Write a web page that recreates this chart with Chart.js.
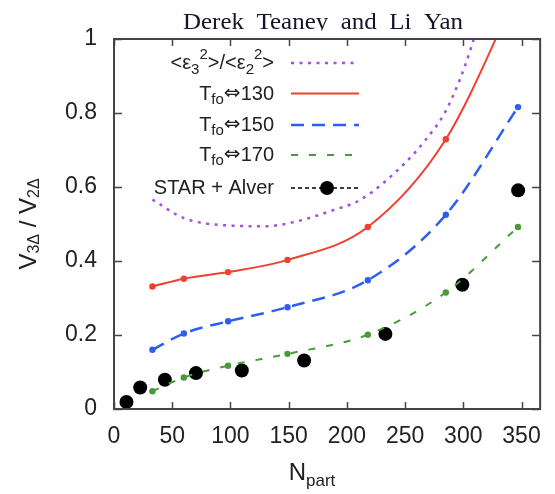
<!DOCTYPE html>
<html>
<head>
<meta charset="utf-8">
<script src="https://cdn.jsdelivr.net/npm/chart.js@4.4.1/dist/chart.umd.min.js"></script>
<style>
  html, body { margin: 0; padding: 0; background: #fff; }
  canvas { display: block; }
</style>
</head>
<body>
<canvas id="ratio-chart" width="555" height="494"></canvas>
<script>
// eccentricity ratio <e3^2>/<e2^2> (plain curve, no markers)
const nPartEcc = [33, 60, 98, 130, 157, 185, 213, 250, 267, 284, 297, 306, 320];
const eccRatio = [0.566, 0.516, 0.496, 0.494, 0.507, 0.534, 0.568, 0.665, 0.725, 0.80, 0.89, 0.97, 1.12];
// N_part values of the hydro points
const nPartModel = [33, 60, 98, 149, 218, 285, 347];
// v3/v2 for the three freeze-out temperatures
const tfo130 = [0.331, 0.352, 0.370, 0.403, 0.492, 0.729, 1.13];
const tfo150 = [0.160, 0.204, 0.237, 0.275, 0.348, 0.525, 0.816];
const tfo170 = [0.048, 0.085, 0.117, 0.149, 0.201, 0.315, 0.492];
// STAR + Alver data
const nPartStar = [10.7, 22.5, 43.7, 70.4, 109.8, 163.3, 233.1, 299.2, 347.1];
const starAlver = [0.019, 0.058, 0.079, 0.097, 0.104, 0.131, 0.203, 0.336, 0.591];

const xTicks = [0, 50, 100, 150, 200, 250, 300, 350];
const yTicks = [0, 0.2, 0.4, 0.6, 0.8, 1];

const seriesNames = ['<ε3²>/<ε2²>', 'Tfo⇔130', 'Tfo⇔150', 'Tfo⇔170', 'STAR + Alver'];
const seriesColors = ['#a050e0', '#f04030', '#2e5ef0', '#4a9a3a', '#000000'];

const SANS = '"Liberation Sans", Arial, sans-serif';
const ARROW = '"DejaVu Sans", sans-serif';

function toPoints(xs, ys) {
    return xs.map((x, i) => ({ x: x, y: ys[i] }));
}

// draw a row of text pieces (sub/superscripts) starting at x
function drawRuns(ctx, runs, x, y, align) {
    let total = 0;
    runs.forEach(r => {
        ctx.font = r.size + 'px ' + (r.family || SANS);
        r.w = ctx.measureText(r.t).width + (r.gap || 0);
        total += r.w;
    });
    let cx = align === 'right' ? x - total : (align === 'center' ? x - total / 2 : x);
    ctx.textAlign = 'left';
    ctx.textBaseline = 'alphabetic';
    runs.forEach(r => {
        ctx.font = r.size + 'px ' + (r.family || SANS);
        ctx.fillText(r.t, cx, y + (r.dy || 0));
        cx += r.w;
    });
}

function tfoRuns(temp) {
    return [
        { t: 'T', size: 20 },
        { t: 'fo', size: 15, dy: 4 },
        { t: '⇔', size: 20, family: ARROW, dy: -1 },
        { t: temp, size: 20 }
    ];
}

const legendRows = [
    { y: 63, runs: [
        { t: '<ε', size: 20 }, { t: '3', size: 15, dy: 5 }, { t: '2', size: 15, dy: -10 },
        { t: '>/<ε', size: 20 }, { t: '2', size: 15, dy: 5 }, { t: '2', size: 15, dy: -10 },
        { t: '>', size: 20 }], dash: [3, 5.5], width: 2.5 },
    { y: 93.5, runs: tfoRuns('130'), dash: [], width: 2 },
    { y: 125, runs: tfoRuns('150'), dash: [13, 8], width: 2.5 },
    { y: 155, runs: tfoRuns('170'), dash: [7, 11], width: 2 },
    { y: 188, runs: [{ t: 'STAR + Alver', size: 20 }], dash: [4, 3], width: 1.5, dot: true }
];

const decorPlugin = {
    id: 'decor',
    afterDraw(chart) {
        const ctx = chart.ctx;
        const area = chart.chartArea;
        const xs = chart.scales.x, ys = chart.scales.y;
        ctx.save();

        // frame with inward ticks
        ctx.strokeStyle = '#444';
        ctx.lineWidth = 2;
        ctx.strokeRect(area.left, area.top, area.right - area.left, area.bottom - area.top);
        ctx.lineWidth = 1.5;
        ctx.beginPath();
        xTicks.forEach(v => {
            const px = Math.round(xs.getPixelForValue(v)) + 0.5;
            ctx.moveTo(px, area.bottom); ctx.lineTo(px, area.bottom - 7);
            ctx.moveTo(px, area.top); ctx.lineTo(px, area.top + 7);
        });
        yTicks.forEach(v => {
            const py = Math.round(ys.getPixelForValue(v)) + 0.5;
            ctx.moveTo(area.left, py); ctx.lineTo(area.left + 8, py);
            ctx.moveTo(area.right, py); ctx.lineTo(area.right - 8, py);
        });
        ctx.stroke();

        // legend
        legendRows.forEach((row, i) => {
            ctx.fillStyle = '#222';
            drawRuns(ctx, row.runs, 274, row.y + 6, 'right');
            ctx.strokeStyle = seriesColors[i];
            ctx.lineWidth = row.width;
            ctx.setLineDash(row.dash);
            ctx.beginPath();
            ctx.moveTo(291, row.y);
            ctx.lineTo(359, row.y);
            ctx.stroke();
            ctx.setLineDash([]);
            if (row.dot) {
                ctx.fillStyle = '#000';
                ctx.beginPath();
                ctx.arc(327, row.y, 7, 0, Math.PI * 2);
                ctx.fill();
            }
        });

        // axis titles
        ctx.fillStyle = '#222';
        drawRuns(ctx, [{ t: 'N', size: 24 }, { t: 'part', size: 17, dy: 6 }], 312, 480, 'center');

        ctx.save();
        ctx.translate(36, 224);
        ctx.rotate(-Math.PI / 2);
        drawRuns(ctx, [
            { t: 'V', size: 24 }, { t: '3Δ', size: 16, dy: 3 },
            { t: ' / ', size: 24 },
            { t: 'V', size: 24 }, { t: '2Δ', size: 16, dy: 3 }
        ], 0, 0, 'center');
        ctx.restore();

        // running header above the plot, cut off just under the baseline
        ctx.save();
        ctx.beginPath();
        ctx.rect(0, 0, 555, 30.5);
        ctx.clip();
        ctx.fillStyle = '#14142a';
        ctx.font = '24px "Liberation Serif", "Times New Roman", serif';
        const title = 'Derek  Teaney  and  Li  Yan';
        const tw = ctx.measureText(title).width;
        ctx.translate(323, 28.5);
        ctx.scale(280 / tw, 1);
        ctx.textAlign = 'center';
        ctx.textBaseline = 'alphabetic';
        ctx.fillText(title, 0, 0);
        ctx.restore();

        ctx.restore();
    }
};

function curveSet(i, xs, ys, dash, width, radius) {
    return {
        label: seriesNames[i],
        data: toPoints(xs, ys),
        borderColor: seriesColors[i],
        backgroundColor: seriesColors[i],
        borderWidth: width,
        borderDash: dash,
        pointRadius: radius,
        pointBorderWidth: 0,
        pointHoverRadius: radius,
        cubicInterpolationMode: 'monotone',
        capBezierPoints: false,
        showLine: true,
        fill: false
    };
}

new Chart(document.getElementById('ratio-chart'), {
    type: 'line',
    data: {
        datasets: [
            curveSet(0, nPartEcc, eccRatio, [3, 5.5], 2.5, 0),
            curveSet(1, nPartModel, tfo130, [], 2, 3.2),
            curveSet(2, nPartModel, tfo150, [13, 8], 2.5, 3.2),
            curveSet(3, nPartModel, tfo170, [7, 11], 2, 3.2),
            {
                label: seriesNames[4],
                data: toPoints(nPartStar, starAlver),
                showLine: false,
                pointRadius: 7,
                pointBorderWidth: 0,
                backgroundColor: '#000',
                borderColor: '#000'
            }
        ]
    },
    options: {
        responsive: false,
        animation: false,
        layout: { padding: { top: 39, right: 7, left: 0, bottom: 0 } },
        plugins: {
            legend: { display: false },
            tooltip: { enabled: false },
            title: { display: false }
        },
        scales: {
            x: {
                type: 'linear',
                min: 0,
                max: 366,
                afterFit(scale) { scale.height = 85; },
                afterBuildTicks(scale) { scale.ticks = xTicks.map(v => ({ value: v })); },
                grid: { display: false, drawTicks: false },
                border: { display: false },
                ticks: {
                    color: '#222',
                    padding: 14,
                    maxRotation: 0,
                    font: { family: SANS, size: 23 }
                }
            },
            y: {
                min: 0,
                max: 1,
                afterFit(scale) { scale.width = 114; },
                afterBuildTicks(scale) { scale.ticks = yTicks.map(v => ({ value: v })); },
                grid: { display: false, drawTicks: false },
                border: { display: false },
                ticks: {
                    color: '#222',
                    padding: 17,
                    font: { family: SANS, size: 23 },
                    callback: v => String(+v.toFixed(1))
                }
            }
        }
    },
    plugins: [decorPlugin]
});
</script>
</body>
</html>
